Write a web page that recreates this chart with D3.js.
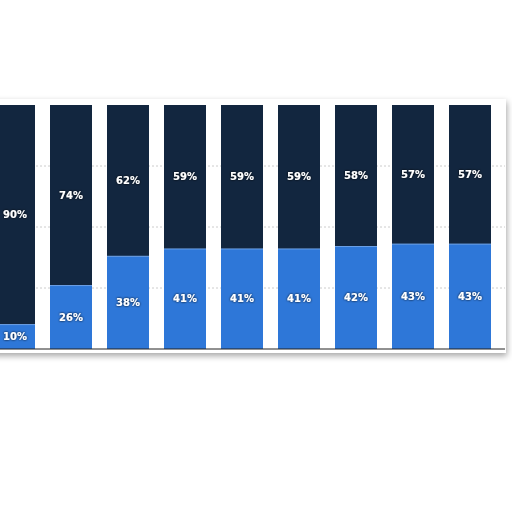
<!DOCTYPE html>
<html><head><meta charset="utf-8">
<script src="https://cdn.jsdelivr.net/npm/d3@7"></script>
<style>body{margin:0;background:#fff}</style>
</head><body>
<div id="chart"></div>
<script>
var categories = ["c1","c2","c3","c4","c5","c6","c7","c8","c9"];
var lower = [10, 26, 38, 41, 41, 41, 42, 43, 43];
var upper = [90, 74, 62, 59, 59, 59, 58, 57, 57];
var yTicks = [0, 25, 50, 75, 100];

var svg = d3.select("#chart").append("svg").attr("width", 512).attr("height", 512);
var defs = svg.append("defs");
var f = defs.append("filter").attr("id", "sh").attr("x", "-10%").attr("y", "-10%").attr("width", "120%").attr("height", "130%");
f.append("feDropShadow").attr("dx", 1).attr("dy", 3).attr("stdDeviation", 3).attr("flood-color", "#000").attr("flood-opacity", 0.35);
var t = defs.append("filter").attr("id", "ts");
t.append("feDropShadow").attr("dx", 0).attr("dy", 0).attr("stdDeviation", 0.8).attr("flood-color", "#000").attr("flood-opacity", 1);

var plotTop = 105, plotBottom = 349;
svg.append("rect").attr("x", -10).attr("y", plotTop - 6).attr("width", 516).attr("height", plotBottom - plotTop + 10)
  .attr("fill", "#fff").attr("filter", "url(#sh)");

var x = d3.scaleBand().domain(categories).range([-14.5, 498.5]).paddingInner(15 / 57).paddingOuter(15 / 114);
var y = d3.scaleLinear().domain([0, 100]).range([plotBottom, plotTop]);

svg.selectAll("line.grid").data(yTicks.slice(1, 4)).enter().append("line")
  .attr("x1", 0).attr("x2", 505).attr("y1", function (d) { return y(d); }).attr("y2", function (d) { return y(d); })
  .attr("stroke", "#ccc").attr("stroke-dasharray", "2,2");

var g = svg.append("g");
categories.forEach(function (c, i) {
  g.append("rect").attr("x", x(c)).attr("width", x.bandwidth())
    .attr("y", y(lower[i])).attr("height", plotBottom - y(lower[i])).attr("fill", "#2e77d8");
  g.append("rect").attr("x", x(c)).attr("width", x.bandwidth())
    .attr("y", y(100)).attr("height", y(lower[i]) - y(100)).attr("fill", "#12263f");
  g.append("line").attr("x1", x(c)).attr("x2", x(c) + x.bandwidth())
    .attr("y1", y(lower[i])).attr("y2", y(lower[i])).attr("stroke", "#6aa0e8").attr("stroke-width", 1);
  var lx = Math.max(x(c) + x.bandwidth() / 2, 15);
  [[lower[i], (y(0) + y(lower[i])) / 2], [upper[i], (y(lower[i]) + y(100)) / 2]].forEach(function (p) {
    g.append("text").attr("x", lx).attr("y", p[1]).attr("dy", "0.35em")
      .attr("text-anchor", "middle").attr("fill", "#fff").attr("filter", "url(#ts)")
      .style("font", "bold 10px 'DejaVu Sans', sans-serif").text(p[0] + "%");
  });
});

svg.append("line").attr("x1", 0).attr("x2", 505).attr("y1", plotBottom).attr("y2", plotBottom).attr("stroke", "#222");
</script>
</body></html>
